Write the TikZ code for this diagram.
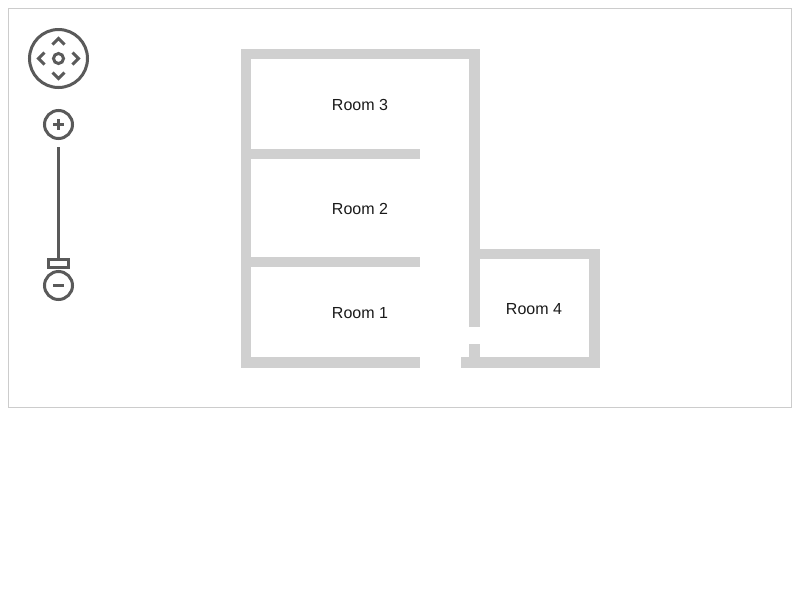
\documentclass[tikz,border=0pt]{standalone}
\usepackage{fontspec}
\setmainfont{Liberation Sans}
\definecolor{wallc}{HTML}{D0D0D0}
\definecolor{ctrl}{HTML}{5A5A5A}
\definecolor{framec}{HTML}{CCCCCC}
\definecolor{txt}{HTML}{1A1A1A}
\tikzset{
  wall/.style={fill=wallc,draw=none},
  ctl/.style={draw=ctrl,line width=3pt,fill=none},
  chev/.style={draw=ctrl,line width=3pt,fill=none,line cap=butt,line join=miter},
  label/.style={font=\fontsize{16pt}{19pt}\selectfont,text=txt,inner sep=0pt}
}
\begin{document}
\begin{tikzpicture}[x=1pt,y=-1pt]
\useasboundingbox (0,0) rectangle (800,600);
\fill[white] (0,0) rectangle (800,600);
\draw[framec,line width=1pt] (8.5,8.5) rectangle (791.5,407.5);
% walls
\fill[wall] (240.5,48.5) rectangle (479.5,59);
\fill[wall] (240.5,48.5) rectangle (251,367.5);
\fill[wall] (469,48.5) rectangle (479.5,327.4);
\fill[wall] (240.5,148.6) rectangle (419.6,159.2);
\fill[wall] (240.5,256.6) rectangle (419.6,267);
\fill[wall] (240.5,356.8) rectangle (419.6,367.5);
\fill[wall] (460.6,356.8) rectangle (599.5,367.5);
\fill[wall] (469,344.4) rectangle (479.5,367.5);
\fill[wall] (469,248.5) rectangle (599.5,259);
\fill[wall] (589,248.5) rectangle (599.5,367.5);
% labels
\node[label] (r3) at (360,104.5) {Room 3};
\node[label] (r2) at (360,208.5) {Room 2};
\node[label] (r1) at (360,313) {Room 1};
\node[label] (r4) at (534,309) {Room 4};
% pan control
\draw[ctl] (58.5,58.5) circle (29);
\draw[chev] (58.5,58.5) circle (5);
\draw[chev] (52.5,44.5) -- (58.5,38.5) -- (64.5,44.5);
\draw[chev] (52.5,72.5) -- (58.5,78.5) -- (64.5,72.5);
\draw[chev] (44.5,52.5) -- (38.5,58.5) -- (44.5,64.5);
\draw[chev] (72.5,52.5) -- (78.5,58.5) -- (72.5,64.5);
% zoom
\draw[ctl] (58.5,124.5) circle (14);
\draw[ctl] (53,124.5) -- (64,124.5);
\draw[ctl] (58.5,119) -- (58.5,130);
\draw[ctl] (58.5,147) -- (58.5,259);
\draw[ctl] (48.5,259.5) rectangle (68.5,267.5);
\draw[ctl] (58.5,285.5) circle (14);
\draw[ctl] (53,285.5) -- (64,285.5);
\end{tikzpicture}
\end{document}
